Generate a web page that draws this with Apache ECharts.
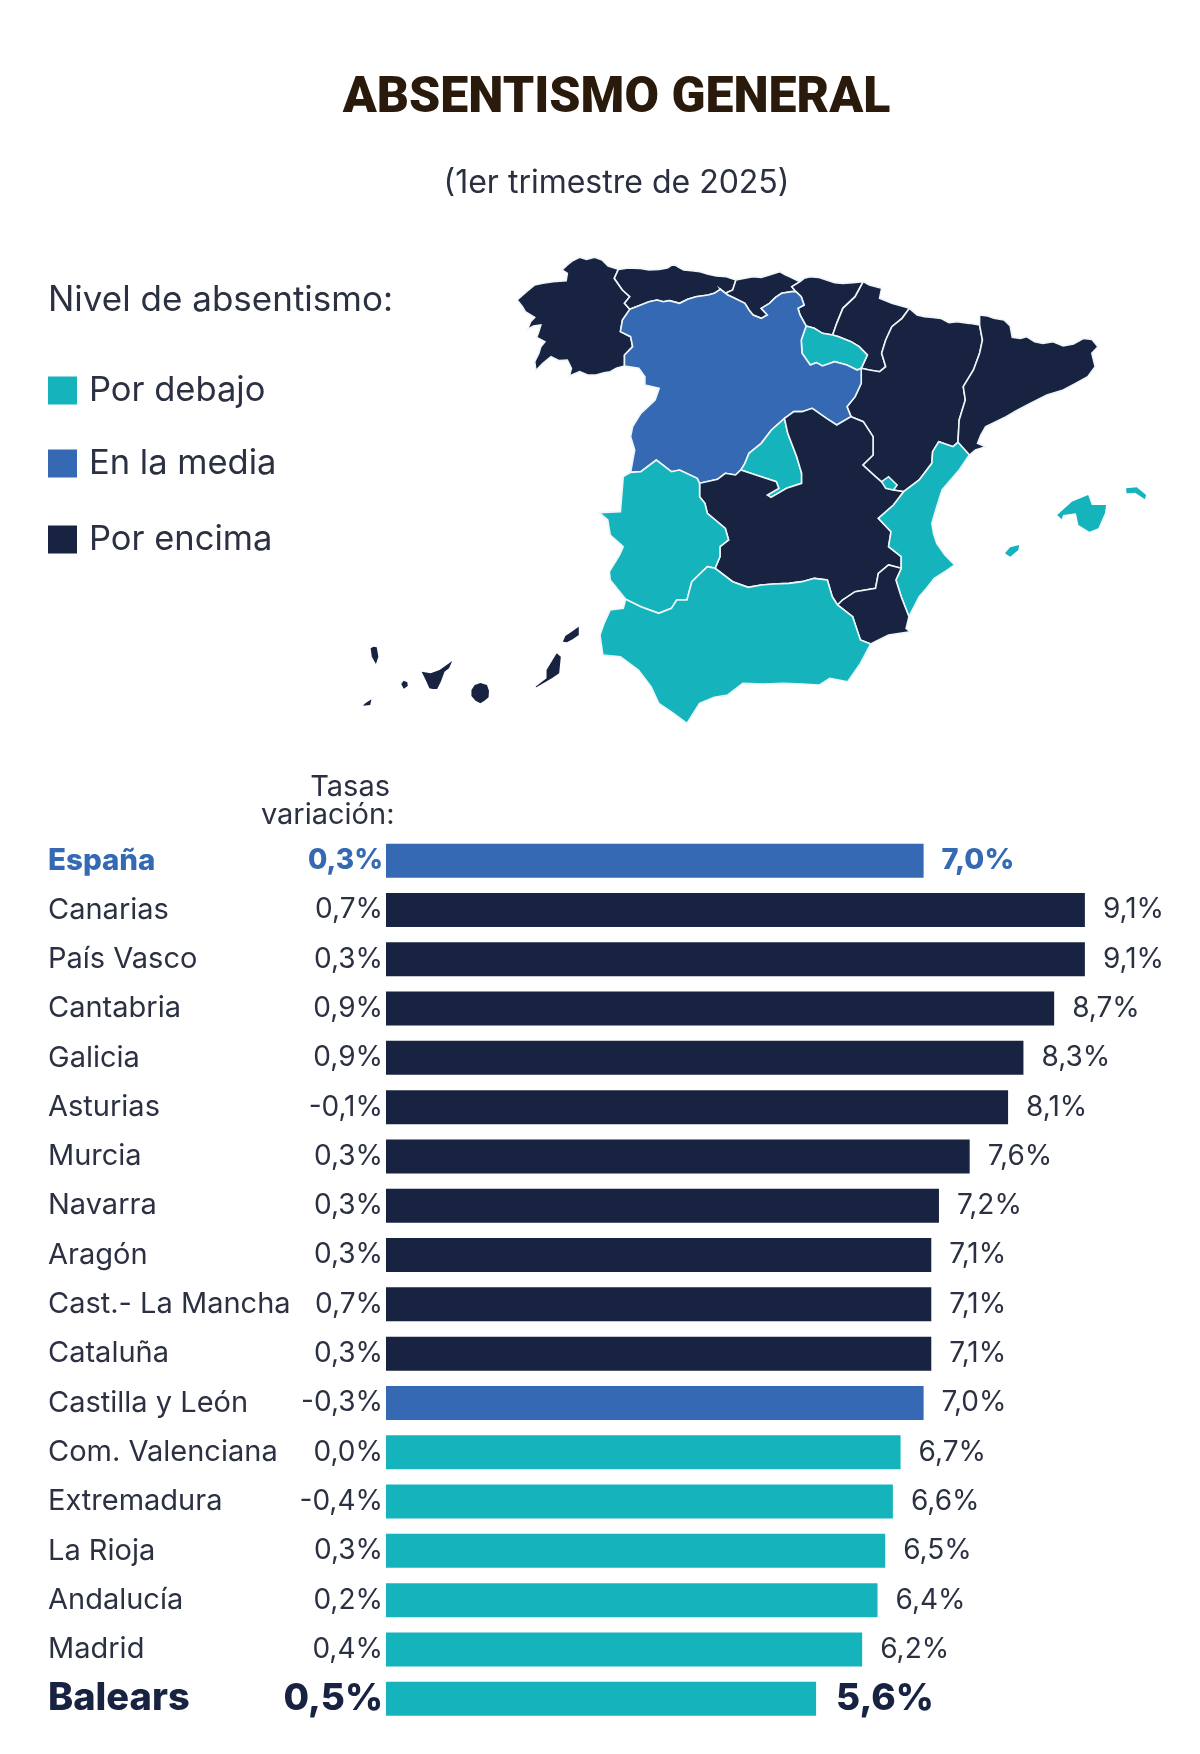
<!DOCTYPE html>
<html>
<head>
<meta charset="utf-8">
<style>html,body{margin:0;padding:0;background:#fff}#c{width:1200px;height:1754px}</style>
<script src="https://cdn.jsdelivr.net/npm/echarts@6/dist/echarts.min.js"></script>
</head>
<body>
<div id="c"></div>
<script>
// Absenteeism rate by autonomous community, first quarter of 2025
const categories = ['España','Canarias','País Vasco','Cantabria','Galicia','Asturias','Murcia','Navarra','Aragón','Cast.- La Mancha','Cataluña','Castilla y León','Com. Valenciana','Extremadura','La Rioja','Andalucía','Madrid','Balears'];
const rates = [7.0,9.1,9.1,8.7,8.3,8.1,7.6,7.2,7.1,7.1,7.1,7.0,6.7,6.6,6.5,6.4,6.2,5.6];
const variations = ['0,3%','0,7%','0,3%','0,9%','0,9%','-0,1%','0,3%','0,3%','0,3%','0,7%','0,3%','-0,3%','0,0%','-0,4%','0,3%','0,2%','0,4%','0,5%'];
const levels = ['Por debajo','En la media','Por encima'];
const levelColors = ['#15b4bd','#3569b3','#182341'];
const nationalRate = rates[0];
const levelOf = v => v > nationalRate ? 2 : v === nationalRate ? 1 : 0;
const fmt = v => v.toFixed(1).replace('.', ',') + '%';

// Shared borders, on a local survey grid (2.45 units across, 3 units down per pixel)
const gridScaleX = 2.45, gridScaleY = 3, mapOriginX = 500, mapOriginY = 240;
const galAst = [[290,88],[280,115],[300,150],[318,170],[305,190],[318,208]];
const galCyl = [[318,208],[300,240],[295,275],[320,290],[325,320],[305,345],[305,378]];
const astCyl = [[318,208],[345,195],[365,185],[385,180],[400,185],[415,182],[440,190],[460,178],[480,170],[510,165],[525,160],[540,148]];
const astCan = [[540,148],[548,162],[570,150],[578,120]];
const canCyl = [[540,148],[558,165],[575,175],[600,190],[610,210],[620,225],[640,235],[655,225],[640,205],[660,190],[675,172],[690,160],[715,155],[725,155]];
const canPv = [[725,155],[715,140],[735,125]];
const pvCyl = [[725,155],[738,170],[745,195],[730,205],[735,225],[750,258]];
const pvRio = [[750,258],[770,265],[790,280],[815,285]];
const pvNav = [[815,285],[825,250],[840,205],[870,170],[890,125]];
const rioNav = [[815,285],[830,290],[860,305],[880,320],[900,345],[885,385]];
const rioCyl = [[750,258],[738,300],[740,340],[760,375],[775,368],[790,378],[820,365],[850,375],[875,390],[885,385]];
const navAra = [[885,385],[905,390],[930,395],[945,380],[935,340],[945,300],[960,260],[985,235],[1003,205]];
const cylAra = [[885,385],[885,430],[870,470],[850,500],[860,530]];
const cylClmN = [[860,530],[825,555],[800,535],[765,505],[740,515],[720,515],[697,535]];
const cylMad = [[697,535],[665,570],[640,610],[610,640],[600,670],[590,690]];
const cylClmS = [[590,690],[577,705],[552,700],[533,718],[489,730]];
const cylExt = [[489,730],[483,715],[440,690],[420,695],[383,660],[345,695],[320,697]];
const cylWest = [[320,697],[330,630],[320,590],[325,560],[345,520],[380,480],[390,445],[355,435],[355,410],[340,385],[305,378]];
const madClm = [[697,535],[705,580],[727,650],[739,700],[739,730],[702,745],[664,772],[655,765],[683,745],[677,725],[627,705],[590,690]];
const galCoast = [[290,88],[265,78],[250,60],[232,52],[212,58],[195,52],[178,62],[165,75],[152,90],[165,100],[162,122],[130,125],[105,130],[85,135],[65,155],[42,180],[55,200],[62,215],[85,232],[75,245],[68,268],[82,258],[100,255],[95,275],[90,292],[110,305],[100,320],[95,340],[85,365],[88,392],[105,370],[125,350],[145,362],[165,360],[175,385],[170,408],[195,395],[215,405],[235,405],[255,398],[270,395],[285,385],[305,378]];
const astCoast = [[290,88],[315,84],[340,85],[365,90],[390,88],[410,84],[425,72],[438,82],[450,90],[470,92],[490,95],[510,103],[530,108],[555,110],[578,120]];
const canCoast = [[578,120],[600,115],[620,110],[640,112],[660,105],[685,95],[700,105],[710,110],[735,125]];
const pvCoast = [[735,125],[745,115],[760,110],[780,112],[800,120],[820,128],[840,130],[865,128],[890,125]];
const navCoast = [[890,125],[905,135],[935,145],[930,175],[960,190],[1003,205]];
const araNorth = [[1003,205],[1022,225],[1040,230],[1060,232],[1080,235],[1100,248],[1120,245],[1150,250],[1175,255]];
const araCat = [[1175,255],[1182,300],[1175,340],[1160,390],[1135,440],[1140,480],[1125,540],[1122,607]];
const araVal = [[1122,607],[1110,620],[1075,605],[1060,635],[1058,670],[1027,720],[989,755]];
const araClm = [[860,530],[890,545],[914,590],[914,645],[889,675],[920,710],[939,730],[964,750],[989,755]];
const catCoast = [[1175,255],[1175,225],[1195,228],[1210,235],[1235,240],[1250,258],[1255,292],[1275,295],[1290,290],[1310,305],[1330,310],[1355,305],[1380,318],[1405,312],[1430,295],[1450,298],[1465,320],[1450,340],[1458,380],[1440,410],[1410,430],[1380,450],[1340,465],[1300,490],[1265,512],[1240,530],[1210,548],[1190,560],[1178,585],[1170,610],[1190,620],[1165,630],[1150,645]];
const catVal = [[1150,645],[1122,607]];
const valClm = [[989,755],[964,795],[927,835],[958,875],[952,920],[983,950],[983,985]];
const valMur = [[983,985],[970,1020],[983,1070],[1002,1130]];
const valCoast = [[1150,645],[1125,690],[1100,725],[1083,750],[1070,800],[1058,850],[1062,880],[1070,910],[1090,945],[1114,975],[1090,995],[1064,1015],[1045,1045],[1027,1070],[1002,1130]];
const murClm = [[983,985],[952,975],[927,1000],[920,1045],[870,1055],[839,1080],[827,1095]];
const murCoast = [[1002,1130],[995,1165],[1005,1175],[952,1185],[908,1212]];
const murAnd = [[908,1212],[883,1200],[864,1130],[827,1095]];
const andClm = [[827,1095],[814,1070],[802,1020],[770,1015],[740,1025],[708,1030],[670,1032],[640,1035],[608,1042],[570,1025],[527,985]];
const andExt = [[527,985],[508,980],[470,1025],[458,1080],[433,1080],[420,1105],[389,1120],[345,1100],[308,1078]];
const andCoast = [[308,1078],[302,1105],[270,1110],[255,1150],[245,1185],[252,1245],[295,1250],[339,1290],[370,1340],[389,1390],[425,1420],[458,1450],[489,1390],[525,1372],[558,1365],[595,1330],[645,1332],[695,1330],[740,1332],[783,1335],[808,1315],[852,1325],[883,1270],[908,1212]];
const extWest = [[320,697],[302,710],[295,815],[243,818],[264,840],[270,885],[302,920],[293,945],[268,995],[270,1020],[308,1078]];
const extClm = [[489,730],[489,770],[502,790],[508,820],[552,865],[560,900],[539,920],[539,950],[527,985]];

// Island groups
const mallorca = [[1365,825],[1401,785],[1441,765],[1450,795],[1485,795],[1482,820],[1466,865],[1444,875],[1417,855],[1411,820],[1380,825],[1376,838]];
const menorca = [[1534,745],[1560,742],[1583,765],[1580,778],[1556,758],[1535,760]];
const ibiza = [[1237,940],[1250,922],[1272,915],[1270,930],[1250,950]];
const rinconAdemuz = [[935,725],[952,710],[973,735],[964,750],[945,745]];
const laPalma = [[-317,1225],[-310,1220],[-302,1222],[-298,1250],[-304,1272],[-314,1250]];
const hierro = [[-330,1390],[-315,1378],[-318,1395],[-336,1397]];
const gomera = [[-242,1332],[-236,1322],[-227,1327],[-226,1338],[-236,1346]];
const tenerife = [[-192,1295],[-170,1300],[-148,1290],[-117,1263],[-125,1285],[-136,1295],[-145,1325],[-154,1347],[-165,1347],[-173,1345],[-182,1320]];
const granCanaria = [[-70,1350],[-62,1335],[-48,1329],[-32,1335],[-27,1352],[-28,1372],[-38,1382],[-48,1390],[-60,1382],[-70,1368]];
const fuerteventura = [[87,1340],[114,1315],[114,1290],[130,1258],[139,1240],[149,1250],[145,1300],[127,1315],[89,1342]];
const lanzarote = [[154,1205],[160,1188],[172,1178],[193,1160],[193,1185],[178,1198],[164,1207]];

const rev = a => a.slice().reverse();
const ring = (...arcs) => arcs.flat();
const regionShapes = {
  'Galicia': [ring(galAst, galCyl, rev(galCoast))],
  'Asturias': [ring(astCoast, rev(astCan), rev(astCyl), rev(galAst))],
  'Cantabria': [ring(canCoast, rev(canPv), rev(canCyl), astCan)],
  'País Vasco': [ring(pvCoast, rev(pvNav), rev(pvRio), rev(pvCyl), canPv)],
  'Navarra': [ring(navCoast, rev(navAra), rev(rioNav), pvNav)],
  'La Rioja': [ring(pvRio, rioNav, rev(rioCyl))],
  'Aragón': [ring(araNorth, araCat, araVal, rev(araClm), rev(cylAra), navAra)],
  'Cataluña': [ring(catCoast, catVal, rev(araCat))],
  'Castilla y León': [ring(astCyl, canCyl, pvCyl, rioCyl, cylAra, cylClmN, cylMad, cylClmS, cylExt, cylWest, rev(galCyl))],
  'Madrid': [ring(cylMad, rev(madClm))],
  'Cast.- La Mancha': [ring(araClm, valClm, murClm, andClm, rev(extClm), rev(cylClmS), rev(madClm), rev(cylClmN))],
  'Extremadura': [ring(rev(cylExt), extClm, andExt, rev(extWest))],
  'Com. Valenciana': [ring(valCoast, rev(valMur), rev(valClm), rev(araVal), rev(catVal)), rinconAdemuz],
  'Murcia': [ring(valMur, murCoast, murAnd, rev(murClm))],
  'Andalucía': [ring(andClm, andExt, andCoast, murAnd)],
  'Balears': [mallorca, menorca, ibiza],
  'Canarias': [laPalma, hierro, gomera, tenerife, granCanaria, fuerteventura, lanzarote]
};

const toLocal = ([x, y]) => [x / gridScaleX, -y / gridScaleY];
const features = Object.keys(regionShapes).map(name => ({
  type: 'Feature',
  properties: { name },
  geometry: { type: 'MultiPolygon', coordinates: regionShapes[name].map(r => [r.concat([r[0]]).map(toLocal)]) }
}));
echarts.registerMap('espana', { type: 'FeatureCollection', features });

const allPts = Object.values(regionShapes).flat(2).map(toLocal);
const xs = allPts.map(p => p[0]), ys = allPts.map(p => -p[1]);
const minX = Math.min(...xs), maxX = Math.max(...xs), minY = Math.min(...ys), maxY = Math.max(...ys);

// One bar series per level so the legend keys come from the library
const TEXT = '#2b3142';
const barSeries = levels.map((lvl, li) => ({
  name: lvl,
  type: 'bar',
  stack: 'total',
  barWidth: 34,
  itemStyle: { color: levelColors[li] },
  label: { show: true, position: 'right', distance: 18, color: TEXT, fontFamily: 'Inter', fontSize: 28, formatter: p => fmt(p.value) },
  data: rates.map((v, i) => {
    if (levelOf(v) !== li) return null;
    if (i === 0) return { value: v, label: { color: levelColors[1], fontWeight: 800, fontSize: 29 } };
    if (i === rates.length - 1) return { value: v, label: { color: '#182341', fontWeight: 800, fontSize: 37, distance: 20 } };
    return v;
  })
}));

const labelRich = {
  base: { color: TEXT, fontFamily: 'Inter', fontSize: 29 },
  spain: { color: levelColors[1], fontFamily: 'Inter', fontWeight: 800, fontSize: 29.5 },
  big: { color: '#182341', fontFamily: 'Inter', fontWeight: 800, fontSize: 38 }
};
const rateRich = {
  base: { color: TEXT, fontFamily: 'Inter', fontSize: 28 },
  spain: { color: levelColors[1], fontFamily: 'Inter', fontWeight: 800, fontSize: 28 },
  big: { color: '#182341', fontFamily: 'Inter', fontWeight: 800, fontSize: 37 }
};
const richLabel = (v, i) => `{${i === 0 ? 'spain' : i === rates.length - 1 ? 'big' : 'base'}|${v}}`;
const legendTops = [373, 446, 522];

const chart = echarts.init(document.getElementById('c'), null, { renderer: 'canvas' });
chart.setOption({
  animation: false,
  backgroundColor: '#fff',
  title: [
    { text: 'ABSENTISMO GENERAL', left: 616.5, top: 74, padding: 0, textAlign: 'center', textStyle: { fontFamily: 'Roboto', fontWeight: 900, fontSize: 50, color: '#2a1a0c' } },
    { text: '(1er trimestre de 2025)', left: 616.5, top: 167, padding: 0, textAlign: 'center', textStyle: { fontFamily: 'Inter', fontWeight: 400, fontSize: 32, color: '#2a3040' } },
    { text: 'Nivel de absentismo:', left: 48, top: 283, padding: 0, textStyle: { fontFamily: 'Inter', fontWeight: 400, fontSize: 35, color: TEXT } },
    { text: 'Tasas', left: 390, top: 773, padding: 0, textAlign: 'right', textStyle: { fontFamily: 'Inter', fontSize: 29, fontWeight: 400, color: TEXT } },
    { text: 'variación:', left: 394.5, top: 801, padding: 0, textAlign: 'right', textStyle: { fontFamily: 'Inter', fontSize: 29, fontWeight: 400, color: TEXT } }
  ],
  legend: levels.map((lvl, i) => ({
    data: [lvl],
    left: 48,
    top: legendTops[i],
    padding: 0,
    icon: 'rect',
    itemWidth: 29,
    itemHeight: 28,
    itemGap: 0,
    selectedMode: false,
    textStyle: { fontFamily: 'Inter', fontSize: 34.5, color: TEXT, padding: [0, 0, 0, 7] }
  })),
  grid: { left: 386, top: 836, width: 768, height: 887.4 },
  xAxis: { type: 'value', min: 0, max: 10, show: false },
  yAxis: [
    { type: 'category', inverse: true, data: categories, axisLine: { show: false }, axisTick: { show: false },
      axisLabel: { align: 'left', margin: 338, formatter: richLabel, rich: labelRich, interval: 0 } },
    { type: 'category', inverse: true, position: 'left', data: variations, axisLine: { show: false }, axisTick: { show: false },
      axisLabel: { margin: 3, formatter: richLabel, rich: rateRich, interval: 0 } }
  ],
  series: [
    ...barSeries,
    {
      name: 'Nivel de absentismo',
      type: 'map',
      map: 'espana',
      roam: false,
      silent: true,
      showLegendSymbol: false,
      aspectScale: 1,
      left: mapOriginX + minX,
      top: mapOriginY + minY,
      width: maxX - minX,
      height: maxY - minY,
      label: { show: false },
      emphasis: { disabled: true },
      select: { disabled: true },
      itemStyle: { borderColor: '#eef6f8', borderWidth: 1.6 },
      data: categories.map((name, i) => ({
        name,
        value: rates[i],
        itemStyle: Object.assign({ areaColor: levelColors[levelOf(rates[i])] },
          name === 'Canarias' || name === 'Balears' ? { borderWidth: 0 } : {})
      })).filter(d => regionShapes[d.name])
    }
  ]
});
</script>
</body>
</html>
